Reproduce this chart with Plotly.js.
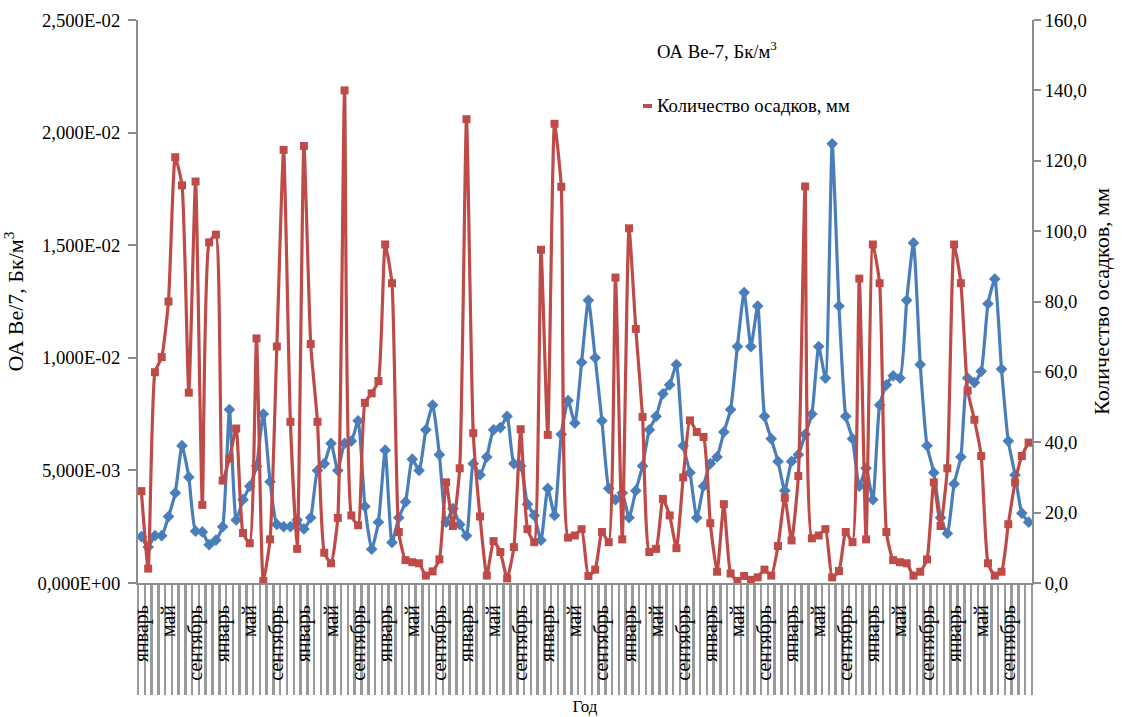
<!DOCTYPE html>
<html>
<head>
<meta charset="utf-8">
<script src="https://cdn.plot.ly/plotly-3.0.1.min.js"></script>
<style>
html,body{margin:0;padding:0;background:#fff;}
#chart{width:1122px;height:717px;}
</style>
</head>
<body>
<div id="chart"></div>
<script>
// ---- Data ----
const monthNames = ['январь','февраль','март','апрель','май','июнь','июль','август','сентябрь','октябрь','ноябрь','декабрь'];
const nYears = 11;
const labelEvery = 4;

// Activity of Be-7, Bq/m3 (left axis)
const be7 = [
  0.00206,0.0016,0.0021,0.0021,0.00295,0.0040,0.0061,0.0047,0.0023,0.00227,0.0017,0.0019,
  0.0025,0.0077,0.0028,0.0037,0.0043,0.0052,0.0075,0.0045,0.0026,0.0025,0.0025,0.0028,
  0.0024,0.0029,0.0050,0.0053,0.0062,0.0050,0.0062,0.0063,0.0072,0.0034,0.0015,0.0027,
  0.0059,0.0018,0.0029,0.0036,0.0055,0.0050,0.0068,0.0079,0.0057,0.0027,0.0033,0.0026,
  0.0021,0.0053,0.0048,0.0056,0.0068,0.0069,0.0074,0.0053,0.0052,0.0035,0.0030,0.0019,
  0.0042,0.0030,0.0066,0.0081,0.0071,0.0098,0.01255,0.0100,0.0072,0.0042,0.0037,0.0040,
  0.0029,0.0041,0.0052,0.0068,0.0074,0.0084,0.0088,0.0097,0.0061,0.0049,0.0029,0.0043,
  0.0053,0.0056,0.0067,0.0077,0.0105,0.0129,0.0105,0.0123,0.0074,0.0064,0.0054,0.0041,
  0.0054,0.0057,0.0066,0.0075,0.0105,0.0091,0.0195,0.0123,0.0074,0.0064,0.0043,0.0051,
  0.0037,0.0079,0.0088,0.0092,0.0091,0.01255,0.0151,0.0097,0.0061,0.0049,0.0029,0.0022,
  0.0044,0.0056,0.0091,0.0089,0.0094,0.0124,0.0135,0.0095,0.0063,0.0048,0.0031,0.0027
];

// Precipitation, mm (right axis)
const precip = [
  26.1,4.1,59.9,64.2,80.0,121.0,113.0,54.1,114.1,22.2,96.8,99.0,
  29.1,35.4,43.9,14.2,11.3,69.5,0.6,12.4,67.2,123.1,45.8,9.7,
  124.2,67.9,45.8,8.6,5.6,18.5,140.0,19.2,16.4,51.2,53.9,57.4,
  96.2,85.2,14.5,6.5,5.9,5.6,2.1,3.3,6.7,28.6,16.2,32.6,
  131.8,42.6,18.9,2.1,11.9,8.8,1.3,10.2,43.7,15.3,11.6,94.7,
  42.1,130.5,112.6,12.9,13.5,15.3,2.0,3.8,14.5,11.6,86.8,12.4,
  100.8,72.2,47.2,8.8,9.7,23.9,19.2,9.9,30.0,46.2,42.9,41.5,
  17.0,3.2,22.4,2.7,0.6,2.0,0.9,1.6,3.8,2.1,10.5,24.2,
  12.1,30.4,112.7,12.7,13.5,15.3,1.6,3.4,14.5,11.6,86.5,12.4,
  96.2,85.2,14.5,6.5,5.9,5.6,2.1,3.2,6.7,28.6,16.2,32.6,
  96.2,85.2,54.7,46.4,36.1,5.6,2.1,3.2,16.7,28.6,36.1,39.9
];

const leftTickVals = [0,0.005,0.01,0.015,0.02,0.025];
const leftTickText = ['0,000E+00','5,000E-03','1,000E-02','1,500E-02','2,000E-02','2,500E-02'];
const rightTickVals = [0,20,40,60,80,100,120,140,160];
const rightTickText = ['0,0','20,0','40,0','60,0','80,0','100,0','120,0','140,0','160,0'];

const seriesNames = ['ОА Be-7, Бк/м<sup>3</sup>','Количество осадков, мм'];

// ---- Build categories ----
const monthLabels = [];
for (let y = 0; y < nYears; y++) for (let m = 0; m < 12; m++) monthLabels.push(monthNames[m]);
const xIdx = monthLabels.map((_, i) => i);
const tickVals = xIdx.filter(i => i % labelEvery === 0);
const tickText = tickVals.map(i => monthLabels[i]);

const FONT = '"Liberation Serif", "Times New Roman", serif';
const BLUE = '#4A7EBB';
const RED = '#BE4B48';
const AXIS = '#8C8C8C';

const traces = [
  {
    x: xIdx, y: be7, name: seriesNames[0], type: 'scatter', mode: 'lines+markers',
    line: {color: BLUE, width: 3.2, shape: 'spline', smoothing: 0.5},
    marker: {symbol: 'diamond', size: 9, color: BLUE},
    yaxis: 'y', showlegend: false, hoverinfo: 'skip'
  },
  {
    x: xIdx, y: precip, name: seriesNames[1], type: 'scatter', mode: 'lines+markers',
    line: {color: RED, width: 3.2, shape: 'spline', smoothing: 0.5},
    marker: {symbol: 'square', size: 8, color: RED},
    yaxis: 'y2', showlegend: false, hoverinfo: 'skip'
  }
];

// plot area pixel geometry helpers (layout only)
const L = 138, R = 1032, T = 20, B = 583;
const px = v => (v - L) / (R - L);
const py = v => (B - v) / (B - T);

const layout = {
  width: 1122, height: 717,
  margin: {l: L, r: 1122 - R, t: T, b: 717 - B, pad: 0},
  paper_bgcolor: '#fff', plot_bgcolor: '#fff',
  font: {family: FONT, color: '#000', size: 18.7},
  showlegend: false,
  xaxis: {
    type: 'linear', range: [-0.5, xIdx.length - 0.5],
    showgrid: false, zeroline: false,
    showline: true, linecolor: AXIS, linewidth: 2,
    tickmode: 'array', tickvals: tickVals, ticktext: tickText,
    tickangle: -90, ticks: '',
    ticklabelstandoff: 12,
    tickfont: {family: FONT, size: 20, color: '#000'},
    minor: {tickmode: 'linear', tick0: -0.5, dtick: 1, ticks: 'outside', ticklen: 110, tickwidth: 2.5, tickcolor: '#9A9A9A', showgrid: false},
    title: {text: 'Год', font: {family: FONT, size: 17, color: '#000'}, standoff: 20}
  },
  yaxis: {
    range: [0, 0.025], showgrid: false, zeroline: false,
    showline: true, linecolor: AXIS, linewidth: 2,
    tickmode: 'array', tickvals: leftTickVals, ticktext: leftTickText,
    ticks: 'outside', ticklen: 8, tickwidth: 2, tickcolor: AXIS,
    ticklabelstandoff: 4,
    tickfont: {family: FONT, size: 18.7, color: '#000'},
    title: {text: 'ОА Be/7, Бк/м<sup>3</sup>', font: {family: FONT, size: 22, color: '#000'}, standoff: 8}
  },
  yaxis2: {
    overlaying: 'y', side: 'right',
    range: [0, 160], showgrid: false, zeroline: false,
    showline: true, linecolor: AXIS, linewidth: 2,
    tickmode: 'array', tickvals: rightTickVals, ticktext: rightTickText,
    ticks: 'outside', ticklen: 7, tickwidth: 2, tickcolor: AXIS,
    tickfont: {family: FONT, size: 18.7, color: '#000'},
    title: {text: 'Количество осадков, мм', font: {family: FONT, size: 22, color: '#000'}, standoff: 8}
  },
  annotations: [
    {xref: 'paper', yref: 'paper', x: px(655), y: py(50), xanchor: 'left', yanchor: 'middle',
     text: seriesNames[0], showarrow: false, font: {family: FONT, size: 18.7, color: '#000'}},
    {xref: 'paper', yref: 'paper', x: px(655), y: py(106), xanchor: 'left', yanchor: 'middle',
     text: seriesNames[1], showarrow: false, font: {family: FONT, size: 18.7, color: '#000'}}
  ],
  shapes: [
    {type: 'line', xref: 'paper', yref: 'paper', x0: px(643), x1: px(652), y0: py(106), y1: py(106),
     line: {color: RED, width: 4}}
  ]
};

Plotly.newPlot('chart', traces, layout, {displayModeBar: false, staticPlot: true});
</script>
</body>
</html>
